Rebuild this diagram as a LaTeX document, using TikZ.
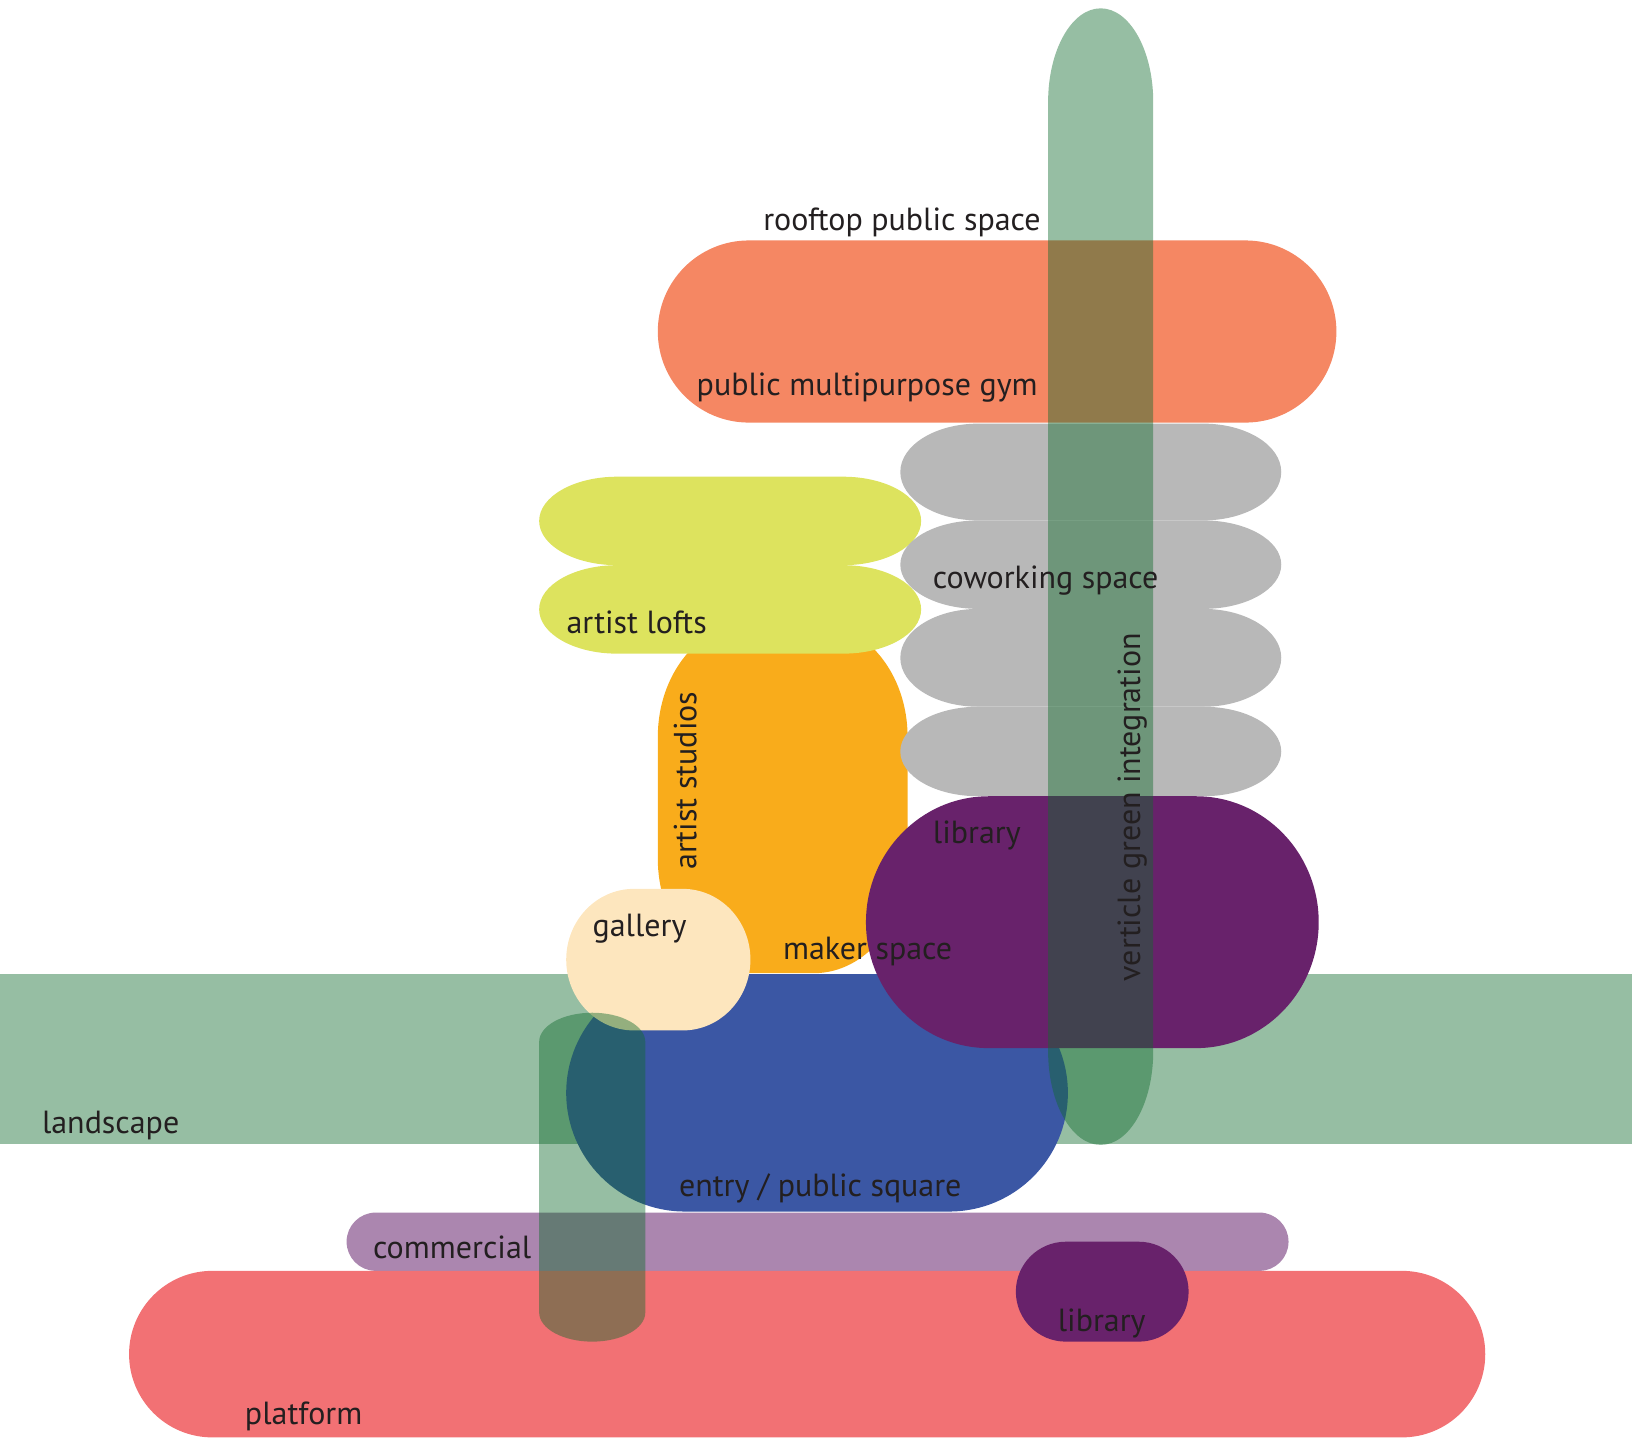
\documentclass[tikz,border=0pt]{standalone}
\usepackage{fontspec}
\setmainfont{PT Sans}

\definecolor{gymorange}{RGB}{245,135,99}
\definecolor{coworkgray}{RGB}{184,184,184}
\definecolor{loftyellow}{RGB}{221,227,94}
\definecolor{studioorange}{RGB}{249,172,27}
\definecolor{gallerycream}{RGB}{253,230,190}
\definecolor{librarypurple}{RGB}{104,34,107}
\definecolor{entryblue}{RGB}{59,87,164}
\definecolor{landgreen}{RGB}{150,190,163}
\definecolor{commercepurple}{RGB}{171,134,175}
\definecolor{platformred}{RGB}{242,113,116}
\definecolor{pillargreen}{RGB}{16,107,45}
\definecolor{labelblack}{RGB}{35,31,32}

% blob with elliptic ends: style, left, top, right, bottom, x radius, y radius (y measured downwards)
\newcommand{\blobshape}[7]{%
  \fill[#1] (#2+#6,-#3) -- (#4-#6,-#3)
    arc[start angle=90,end angle=0,x radius=#6,y radius=#7] -- (#4,-#5+#7)
    arc[start angle=0,end angle=-90,x radius=#6,y radius=#7] -- (#2+#6,-#5)
    arc[start angle=270,end angle=180,x radius=#6,y radius=#7] -- (#2,-#3-#7)
    arc[start angle=180,end angle=90,x radius=#6,y radius=#7] -- cycle;}

\begin{document}
\begin{tikzpicture}[x=0.5204pt,y=0.5204pt]

  \tikzstyle{lbl} = [text=labelblack, font=\fontsize{16}{19}\selectfont, inner sep=0pt, anchor=base west]
  \tikzstyle{pillar} = [fill=pillargreen, fill opacity=0.44]

  \useasboundingbox (0,0) rectangle (1568,-1382);

  % ground band
  \fill[landgreen] (0,-936) rectangle (1568,-1099);

  % tower
  \blobshape{studioorange}{632}{598}{872}{935}{90}{110}
  \blobshape{loftyellow}{518}{458}{885}{543}{75}{42.5}
  \blobshape{loftyellow}{518}{543}{885}{628}{75}{42.5}
  \blobshape{coworkgray}{865}{407}{1231}{500}{75}{46.5}
  \blobshape{coworkgray}{865}{500}{1231}{585}{75}{42.5}
  \blobshape{coworkgray}{865}{585}{1231}{679}{75}{47}
  \blobshape{coworkgray}{865}{679}{1231}{765}{75}{43}
  \blobshape{gymorange}{632}{231}{1284}{406}{87.5}{87.5}
  \blobshape{entryblue}{544}{936}{1026}{1164}{114}{114}
  \blobshape{gallerycream}{544}{854}{721}{990}{65}{68}
  \blobshape{librarypurple}{832}{765}{1267}{1007}{118}{121}

  % base
  \blobshape{commercepurple}{333}{1165}{1238}{1221}{28}{28}
  \blobshape{platformred}{124}{1221}{1427}{1381}{80}{80}
  \blobshape{librarypurple}{976}{1193}{1142}{1289}{48}{48}

  % green pillars
  \blobshape{pillar}{518}{973}{620}{1289}{51}{28}
  \blobshape{pillar}{1007}{8}{1108}{1100}{50.5}{90}

  % labels
  \node (rooftop) [lbl] at (733,-221) {rooftop public space};
  \node (gym) [lbl] at (669,-379.5) {public multipurpose gym};
  \node (cowork) [lbl] at (896,-565) {coworking space};
  \node (lofts) [lbl] at (544,-608.5) {artist lofts};
  \node (studios) [lbl, rotate=90] at (669,-836) {artist studios};
  \node (libup) [lbl] at (896,-810) {library};
  \node (gallery) [lbl] at (569,-900) {gallery};
  \node (maker) [lbl] at (752,-921.5) {maker space};
  \node (green) [lbl, rotate=90] at (1095.5,-943) {verticle green integration};
  \node (land) [lbl] at (40,-1089) {landscape};
  \node (entry) [lbl] at (652,-1150) {entry / public square};
  \node (commerce) [lbl] at (358,-1209) {commercial};
  \node (libdown) [lbl] at (1016,-1279) {library};
  \node (platform) [lbl] at (235,-1369) {platform};

\end{tikzpicture}
\end{document}
